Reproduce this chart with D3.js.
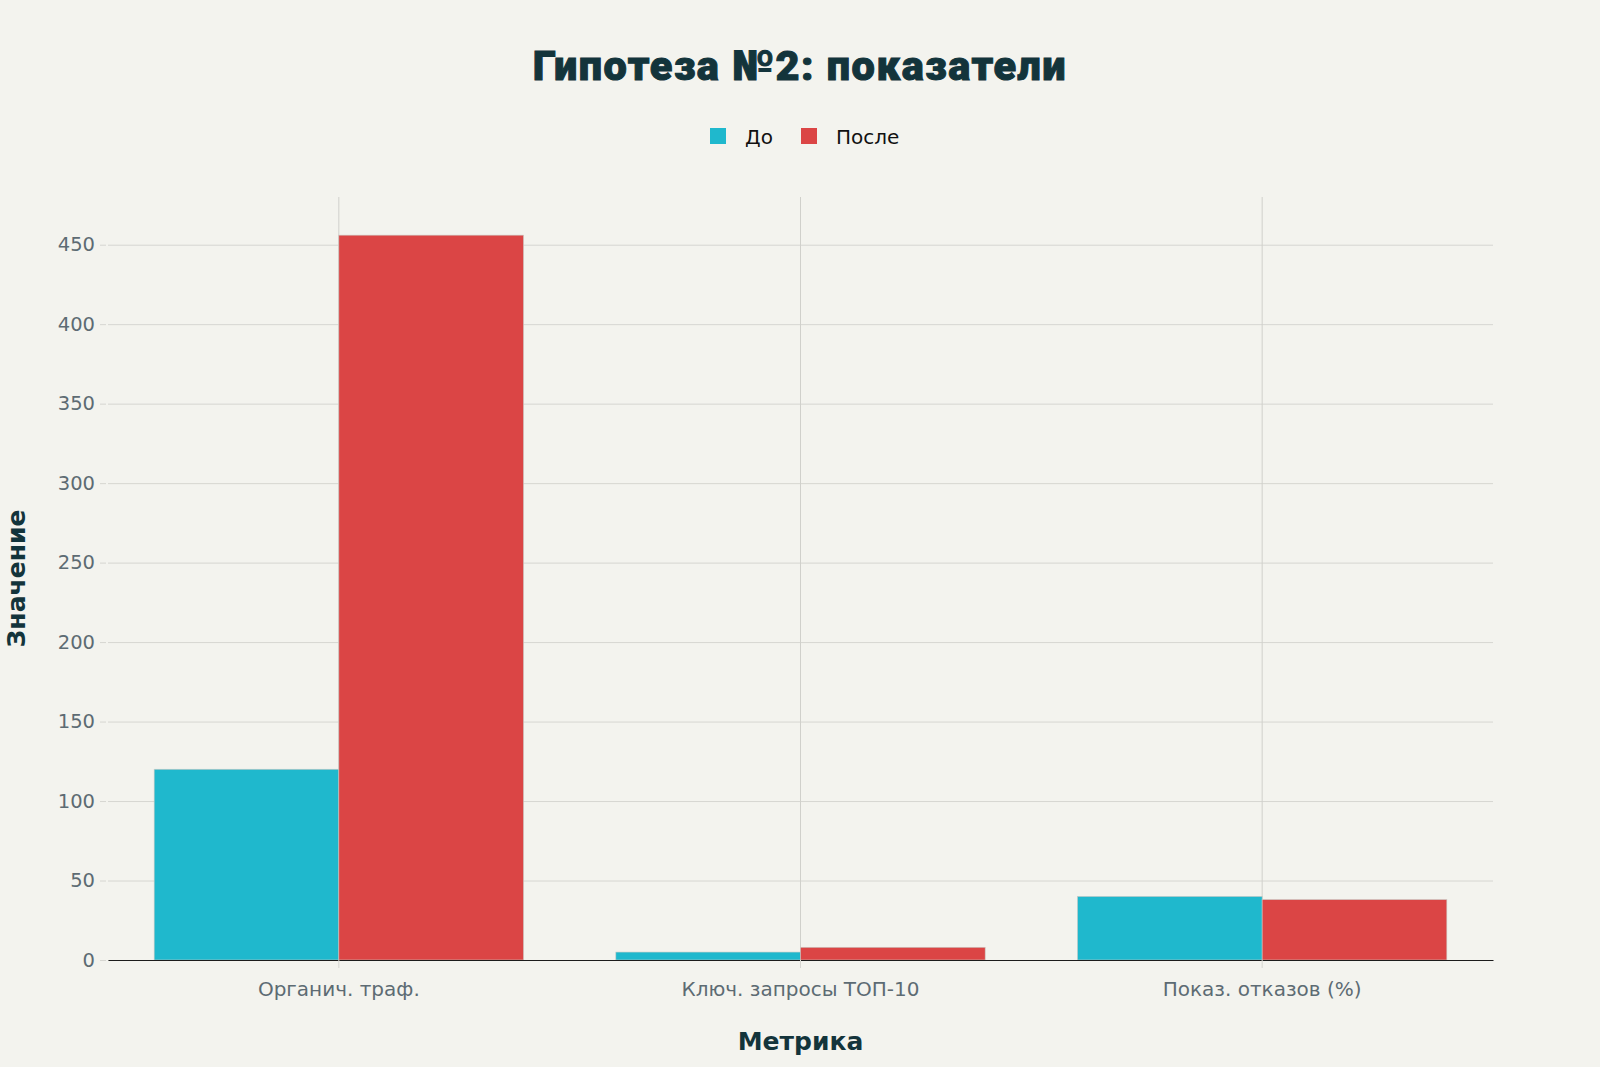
<!DOCTYPE html>
<html>
<head>
<meta charset="utf-8">
<script src="https://cdn.jsdelivr.net/npm/d3@7"></script>
<style>
  html, body { margin: 0; padding: 0; background: #F3F3EE; }
  svg { display: block; }
</style>
</head>
<body>
<svg id="chart" width="1600" height="1067"></svg>
<script>
const categories = ["Органич. траф.", "Ключ. запросы ТОП-10", "Показ. отказов (%)"];
const seriesNames = ["До", "После"];
const beforeValues = [120, 5, 40];
const afterValues = [456, 8, 38];
const yTicks = [0, 50, 100, 150, 200, 250, 300, 350, 400, 450];
const colors = ["#1FB8CD", "#DB4545"];

let svg = d3.select("#chart");
let margin = { top: 197, bottom: 107, left: 108, right: 107 };
let width = 1600 - margin.left - margin.right;
let height = 1067 - margin.top - margin.bottom;

svg.append("rect").attr("width", 1600).attr("height", 1067).attr("fill", "#F3F3EE");

let chartArea = svg.append("g")
  .attr("transform", `translate(${margin.left},${margin.top})`);

let xAxis = d3.scaleBand().domain(categories).range([0, width]).padding(0);
let bw = xAxis.bandwidth();
let xInner = d3.scaleBand().domain(seriesNames).range([bw * 0.1, bw * 0.9]).padding(0);
let yAxis = d3.scaleLinear().domain([0, 480]).range([height, 0]);

// horizontal grid
chartArea.append("g")
  .call(d3.axisLeft(yAxis).tickValues(yTicks).tickSize(-width).tickFormat(""))
  .call(g => g.select(".domain").remove())
  .selectAll("line")
  .attr("stroke", "#d6d6d1")
  .attr("stroke-width", 1);

// vertical grid
chartArea.append("g")
  .selectAll("line")
  .data(categories)
  .enter()
  .append("line")
  .attr("x1", d => xAxis(d) + bw / 2)
  .attr("x2", d => xAxis(d) + bw / 2)
  .attr("y1", 0)
  .attr("y2", height)
  .attr("stroke", "#d0d0cb")
  .attr("stroke-width", 1);

// y axis labels + small ticks
let yg = chartArea.append("g")
  .call(d3.axisLeft(yAxis).tickValues(yTicks).tickSize(6).tickPadding(7));
yg.select(".domain").remove();
yg.selectAll("line").attr("stroke", "#d6d6d1").attr("transform", "translate(-2,0)");
yg.selectAll("text")
  .attr("fill", "#5d6b73")
  .style("font-family", "'DejaVu Sans', sans-serif")
  .style("font-size", "19.5px");

// bars
let series = [beforeValues, afterValues];
series.forEach((vals, si) => {
  chartArea.append("g")
    .selectAll("rect")
    .data(categories)
    .enter()
    .append("rect")
    .attr("x", (d) => xAxis(d) + xInner(seriesNames[si]))
    .attr("width", xInner.bandwidth())
    .attr("y", (d, i) => yAxis(vals[i]))
    .attr("height", (d, i) => height - yAxis(vals[i]))
    .attr("fill", colors[si])
    .attr("stroke", "#c9c9c4")
    .attr("stroke-width", 0.6);
});

// x axis
let xg = chartArea.append("g")
  .attr("transform", `translate(0,${height})`)
  .call(d3.axisBottom(xAxis).tickSizeInner(8).tickSizeOuter(0).tickPadding(14));
xg.select(".domain").attr("stroke", "#1b1b1b").attr("stroke-width", 1.2);
xg.selectAll("line").attr("stroke", "#d6d6d1");
xg.selectAll("text")
  .attr("fill", "#5d6b73")
  .style("font-family", "'DejaVu Sans', sans-serif")
  .style("font-size", "20px");

// title
svg.append("text")
  .attr("x", 800)
  .attr("y", 80)
  .attr("text-anchor", "middle")
  .attr("fill", "#13343B")
  .attr("stroke", "#13343B")
  .attr("stroke-width", 1)
  .style("font-family", "Roboto, sans-serif")
  .style("font-weight", 900)
  .style("font-size", "41.5px")
  .style("letter-spacing", "1.5px")
  .text("Гипотеза №2: показатели");

// legend
let legend = svg.append("g");
let legendX = [710, 801];
seriesNames.forEach((name, i) => {
  legend.append("rect")
    .attr("x", legendX[i])
    .attr("y", 128)
    .attr("width", 16)
    .attr("height", 16)
    .attr("fill", colors[i]);
  legend.append("text")
    .attr("x", legendX[i] + 35)
    .attr("y", 144)
    .attr("fill", "#111")
    .style("font-family", "'DejaVu Sans', sans-serif")
    .style("font-size", "20px")
    .text(name);
});

// axis titles
svg.append("text")
  .attr("x", margin.left + width / 2)
  .attr("y", 1050)
  .attr("text-anchor", "middle")
  .attr("fill", "#13343B")
  .style("font-family", "'DejaVu Sans', sans-serif")
  .style("font-weight", "bold")
  .style("font-size", "25px")
  .text("Метрика");

svg.append("text")
  .attr("transform", `translate(25,${margin.top + height / 2}) rotate(-90)`)
  .attr("text-anchor", "middle")
  .attr("fill", "#13343B")
  .style("font-family", "'DejaVu Sans', sans-serif")
  .style("font-weight", "bold")
  .style("font-size", "25px")
  .text("Значение");
</script>
</body>
</html>
